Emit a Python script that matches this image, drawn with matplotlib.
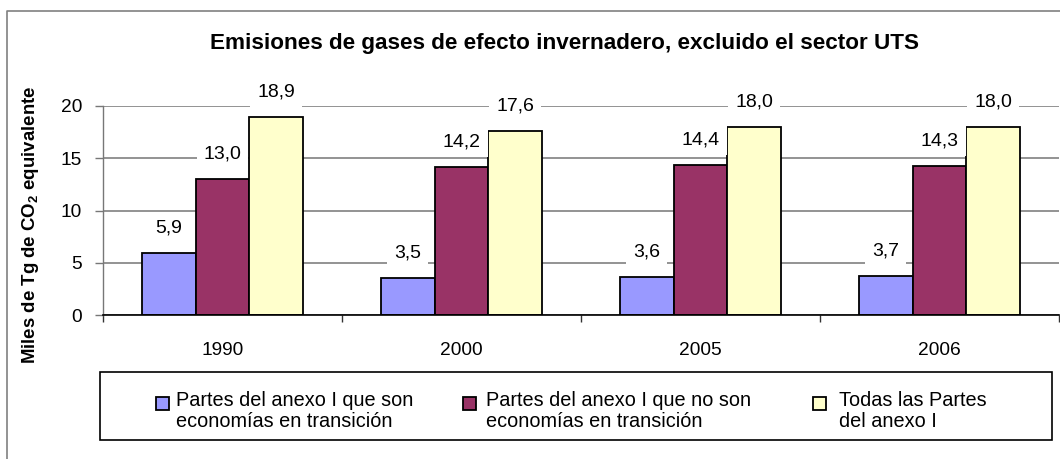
import matplotlib
matplotlib.use("Agg")
import matplotlib.pyplot as plt
from matplotlib.lines import Line2D
from matplotlib.patches import Rectangle
import numpy as np

plt.rcParams['font.family'] = ['Liberation Sans', 'DejaVu Sans']
plt.rcParams['mathtext.fontset'] = 'custom'
plt.rcParams['mathtext.bf'] = 'Liberation Sans:bold'
plt.rcParams['mathtext.rm'] = 'Liberation Sans'

# ---- data ----
years = ["1990", "2000", "2005", "2006"]
series_names = [
    "Partes del anexo I que son\neconomías en transición",
    "Partes del anexo I que no son\neconomías en transición",
    "Todas las Partes\ndel anexo I",
]
eit = [5.9, 3.5, 3.6, 3.7]
non_eit = [13.0, 14.2, 14.4, 14.3]
all_annex = [18.9, 17.6, 18.0, 18.0]
yticks = [0, 5, 10, 15, 20]
title = "Emisiones de gases de efecto invernadero, excluido el sector UTS"
ylabel = r"Miles de Tg de CO$_\mathbf{2}$ equivalente"

colors = ["#9999FF", "#993366", "#FFFFCC"]
series = [eit, non_eit, all_annex]

W, H = 1060, 459
fig = plt.figure(figsize=(W / 100, H / 100), dpi=100)

def px2pt(p):
    return p * 72 / 100

ax = fig.add_axes([103 / W, 1 - 315 / H, (1059 - 103) / W, (315 - 106) / H])

x = np.arange(len(years))
bw = 0.224
for i, (vals, c) in enumerate(zip(series, colors)):
    xs = x + (i - 1) * bw
    ax.bar(xs, vals, width=bw, color=c, edgecolor="black", linewidth=1.3, zorder=2)
    for xi, v in zip(xs, vals):
        ax.annotate(f"{v:.1f}".replace(".", ","), xy=(xi, v), xytext=(0, px2pt(25)),
                    textcoords="offset points", ha="center", va="center",
                    fontsize=14, color="black", zorder=5,
                    bbox=dict(boxstyle="square,pad=0.36", fc="white", ec="none"))

ax.set_xlim(-0.5, len(years) - 0.5)
ax.set_ylim(0, 20)
ax.set_yticks(yticks)
ax.set_yticklabels([str(t) for t in yticks], fontsize=13.8)
ax.set_xticks(x)
ax.set_xticklabels(years, fontsize=13.8)
ax.set_xticks(np.arange(-0.5, len(years), 1.0), minor=True)
ax.tick_params(axis="x", which="major", length=0, pad=px2pt(27))
ax.tick_params(axis="x", which="minor", length=px2pt(7), width=1, color="#333333", direction="out")
ax.tick_params(axis="y", length=px2pt(8), width=1, color="#777777", pad=px2pt(13))
ax.set_axisbelow(True)
ax.grid(axis="y", color="#808080", linewidth=1.2, zorder=0)
for s in ["top", "right"]:
    ax.spines[s].set_visible(False)
ax.spines["left"].set_color("#777777")
ax.spines["left"].set_linewidth(1)
ax.spines["bottom"].set_color("black")
ax.spines["bottom"].set_linewidth(1.2)

# title and y label
fig.text(564 / W, 1 - 43 / H, title, ha="center", va="center", fontsize=16.2, fontweight="bold")
fig.text(31 / W, 1 - 225 / H, ylabel, ha="center", va="center", rotation=90,
         fontsize=13.4, fontweight="bold")

# outer frame (left and top)
fig.add_artist(Line2D([7 / W, 7 / W, 1.0], [0.0, 1 - 11 / H, 1 - 11 / H],
                      transform=fig.transFigure, color="#808080", linewidth=1.2))

# legend box
fig.add_artist(Rectangle((100 / W, 1 - 440 / H), (1052 - 100) / W, (440 - 372) / H,
                         transform=fig.transFigure, fc="white", ec="black", linewidth=1.2))
marker_x = [156, 463, 813]
text_x = [176, 486, 839]
for name, c, mx, tx in zip(series_names, colors, marker_x, text_x):
    fig.add_artist(Rectangle((mx / W, 1 - 410 / H), 13 / W, 13 / H,
                             transform=fig.transFigure, fc=c, ec="black", linewidth=1.3))
    fig.text(tx / W, 1 - 411 / H, name, ha="left", va="center", fontsize=14.3, linespacing=1.1)

fig.savefig("out.png", dpi=100)
